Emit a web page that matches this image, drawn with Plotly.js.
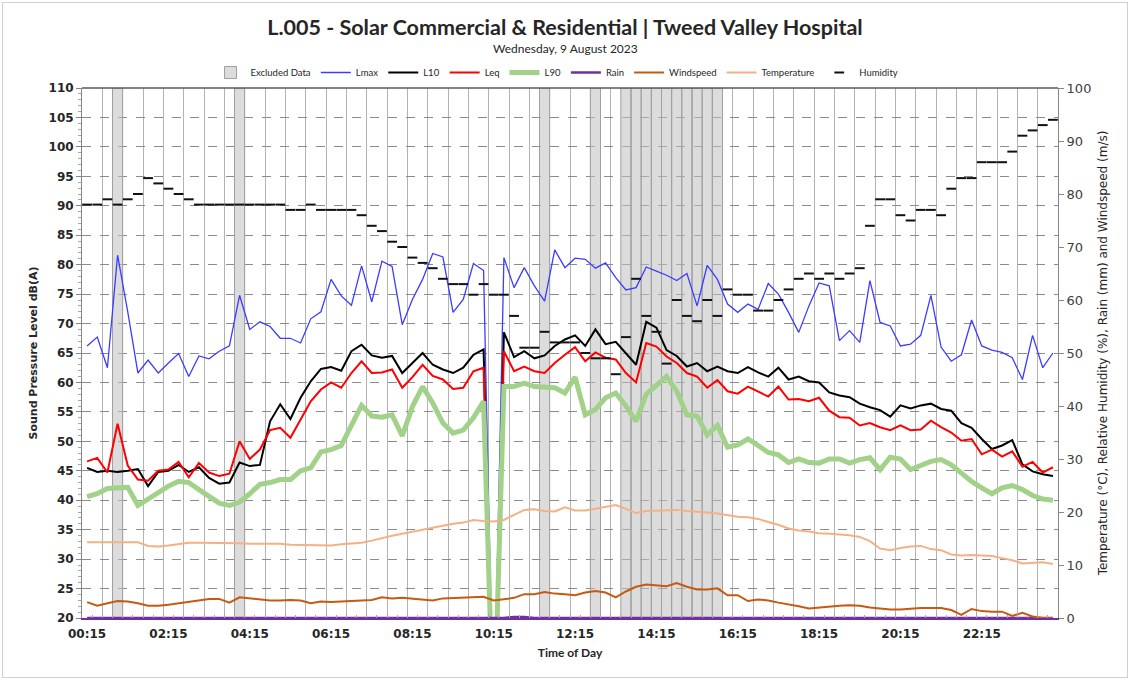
<!DOCTYPE html>
<html><head><meta charset="utf-8">
<script src="https://cdn.plot.ly/plotly-3.0.1.min.js"></script>
<style>
html,body{margin:0;padding:0;background:#fff;}
#chart{position:absolute;left:0;top:0;width:1130px;height:680px;}
#border{position:absolute;left:2px;top:2px;width:1124px;height:674px;border:1px solid #d0d0d0;pointer-events:none;}
</style></head><body>
<div id="chart"></div>
<div id="border"></div>
<script>
const times = ["00:15","00:30","00:45","01:00","01:15","01:30","01:45","02:00","02:15","02:30","02:45","03:00","03:15","03:30","03:45","04:00","04:15","04:30","04:45","05:00","05:15","05:30","05:45","06:00","06:15","06:30","06:45","07:00","07:15","07:30","07:45","08:00","08:15","08:30","08:45","09:00","09:15","09:30","09:45","10:00","10:15","10:30","10:45","11:00","11:15","11:30","11:45","12:00","12:15","12:30","12:45","13:00","13:15","13:30","13:45","14:00","14:15","14:30","14:45","15:00","15:15","15:30","15:45","16:00","16:15","16:30","16:45","17:00","17:15","17:30","17:45","18:00","18:15","18:30","18:45","19:00","19:15","19:30","19:45","20:00","20:15","20:30","20:45","21:00","21:15","21:30","21:45","22:00","22:15","22:30","22:45","23:00","23:15","23:30","23:45","00:00"];

const tickLabels = ["00:15","02:15","04:15","06:15","08:15","10:15","12:15","14:15","16:15","18:15","20:15","22:15"];

const excludedTimes = ["01:00","04:00","11:30","12:45","13:30","13:45","14:00","14:15","14:30","14:45","15:00","15:15","15:30","15:45"];

const lmax = [66.2,67.7,62.5,81.6,72.0,61.6,63.8,61.6,63.3,64.9,
 61.0,64.5,64.0,65.3,66.2,74.8,69.0,70.3,69.5,67.5,
 67.5,66.7,70.8,72.0,77.5,74.7,73.1,79.8,73.7,80.6,
 79.7,69.8,74.1,77.5,81.9,81.3,71.9,74.1,80.2,79.0,
 0,81.2,76.1,79.5,76.4,73.8,82.5,79.5,81.1,80.9,
 79.4,80.3,77.8,75.7,76.1,79.6,78.9,78.2,77.3,78.5,
 73.0,79.9,77.5,73.3,71.9,73.3,72.4,76.8,75.0,71.9,
 68.5,73.0,76.9,76.4,67.1,68.8,66.8,77.3,70.2,69.6,
 66.2,66.5,68.0,74.8,66.0,63.6,64.7,70.6,66.2,65.5,
 65.1,64.2,60.5,68.0,62.5,65.0];

const l10 = [45.5,44.8,45.0,44.8,45.0,45.3,42.4,44.8,45.0,46.0,
 44.8,45.6,43.8,42.8,43.0,46.4,45.8,46.0,53.4,56.3,
 53.8,57.4,60.2,62.3,62.6,62.0,65.3,66.4,64.6,64.2,
 64.5,61.6,63.3,65.0,63.0,62.2,61.6,62.5,64.7,65.6,
 0,68.5,64.3,65.3,64.1,64.6,66.2,67.3,68.0,66.2,
 69.0,66.5,66.9,64.9,63.0,70.3,69.3,65.5,64.5,62.7,
 63.3,61.9,62.7,61.9,61.6,62.6,61.7,61.0,62.5,60.5,
 61.0,60.2,60.0,58.3,57.8,57.5,56.4,55.8,55.3,54.2,
 56.1,55.6,56.1,56.4,55.5,55.2,53.1,52.3,50.4,48.7,
 49.3,50.2,46.1,44.9,44.4,44.1];

const leq = [46.6,47.2,44.7,53.0,45.9,43.5,43.3,45.0,45.2,46.5,
 43.9,46.3,44.7,44.1,44.5,50.0,47.0,48.6,51.9,52.3,
 50.6,53.7,56.8,58.8,60.0,59.1,61.6,63.6,61.6,61.7,
 62.2,59.1,60.9,63.0,61.1,60.5,58.9,59.1,61.9,62.5,
 0,65.3,61.9,62.7,61.9,61.6,63.3,64.7,66.0,63.6,
 65.1,64.2,63.9,61.6,60.0,66.7,66.1,64.4,63.3,61.6,
 61.0,59.1,60.4,58.5,58.1,59.3,58.5,57.6,59.3,57.1,
 57.2,56.8,57.4,55.2,54.1,54.0,52.7,53.1,52.4,51.9,
 52.7,51.9,52.0,53.5,52.4,51.5,50.1,50.4,47.8,48.6,
 47.4,48.3,45.7,46.5,44.7,45.6];

const l90 = [40.6,41.1,42.0,42.2,42.2,39.1,40.2,41.4,42.4,43.2,
 43.0,41.8,40.7,39.5,39.1,39.7,41.1,42.7,43.0,43.5,
 43.5,45.0,45.5,48.2,48.6,49.3,52.7,56.1,54.3,54.1,
 54.5,50.9,55.9,59.3,56.5,53.1,51.4,51.9,54.0,56.8,
 0,59.3,59.3,59.9,59.3,59.1,59.1,58.2,60.9,54.5,
 55.4,57.4,58.2,56.0,53.4,58.0,59.6,61.0,58.5,54.5,
 54.3,51.1,52.7,49.0,49.4,50.4,49.3,48.1,47.7,46.4,
 47.0,46.4,46.3,47.0,47.0,46.3,46.9,47.2,45.2,47.3,
 47.0,45.2,45.9,46.6,46.9,46.0,44.6,43.2,42.1,41.1,
 42.1,42.5,41.8,40.8,40.2,40.0];

const rain = [0,0,0,0,0,0,0,0,0,0, 0,0,0,0,0,0,0,0,0,0,
 0,0,0,0,0,0,0,0,0,0, 0,0,0,0,0,0,0,0,0,0,
 0,0,0.2,0.2,0,0,0,0,0,0, 0,0,0,0,0,0,0,0,0,0,
 0,0,0,0,0,0,0,0,0,0, 0,0,0,0,0,0,0,0,0,0,
 0,0,0,0,0,0,0,0,0,0, 0,0,0,0,0,0];

const windspeed = [3.0,2.3,2.8,3.2,3.1,2.8,2.3,2.3,2.5,2.8,
 3.1,3.4,3.6,3.6,2.9,3.9,3.7,3.4,3.3,3.3,
 3.4,3.3,2.8,3.1,3.0,3.1,3.2,3.3,3.4,3.9,
 3.7,3.8,3.6,3.5,3.3,3.7,3.8,3.9,4.0,4.0,
 3.3,3.5,3.8,4.5,4.5,4.9,4.6,4.5,4.3,4.8,
 5.1,4.8,3.9,5.0,5.9,6.3,6.2,6.0,6.6,5.9,
 5.4,5.4,5.6,4.3,4.3,3.2,3.5,3.3,2.9,2.6,
 2.2,1.8,2.0,2.2,2.3,2.4,2.3,2.0,1.8,1.6,
 1.6,1.8,1.9,1.9,1.9,1.5,0.6,1.7,1.3,1.2,
 1.2,0.4,1.0,0.3,0.0,0.0];

const temperature = [14.3,14.3,14.3,14.3,14.3,14.3,13.6,13.5,13.7,14.0,
 14.2,14.2,14.2,14.2,14.2,14.1,14.0,14.0,14.0,14.0,
 13.8,13.8,13.8,13.7,13.7,13.9,14.0,14.2,14.6,15.1,
 15.5,15.9,16.3,16.7,17.1,17.5,17.8,18.0,18.5,18.3,
 18.2,18.5,19.5,20.4,20.5,20.2,20.1,20.9,20.3,20.3,
 20.6,20.9,21.3,20.6,19.8,20.2,20.3,20.3,20.4,20.2,
 20.1,19.9,19.7,19.4,19.1,19.0,18.7,18.1,17.6,16.9,
 16.5,16.3,16.0,15.9,15.8,15.6,15.3,14.5,13.1,12.8,
 13.2,13.5,13.6,13.0,12.8,12.0,11.8,11.9,11.8,11.7,
 11.3,10.9,10.3,10.4,10.5,10.2];

const humidity = [78,78,79,78,79,80,83,82,81,80,
 79,78,78,78,78,78,78,78,78,78,
 77,77,78,77,77,77,77,76,74,73,
 71,70,68,67,66,64,63,63,61,63,
 61,61,57,51,51,54,52,52,52,50,
 49,49,46,53,64,57,54,48,60,57,
 56,60,57,62,61,61,58,58,60,62,
 64,65,64,65,64,65,66,74,79,79,
 76,75,77,77,76,81,83,83,86,86,
 86,88,91,92,93,94];

const splRange = [20, 110];
const metRange = [0, 100];

const idx = times.map((t, i) => i);
const pos = t => times.indexOf(t);
const exIdx = excludedTimes.map(pos);
const tickIdx = tickLabels.map(pos);
const xRange = [-0.5, times.length - 0.5];

const data = [
  {type:'scatter', x:[tickIdx[0]], y:[null], xaxis:'x2', yaxis:'y', showlegend:false, hoverinfo:'skip', mode:'lines'},
  {type:'bar', name:'Excluded Data', x:exIdx, y:exIdx.map(() => splRange[1] - splRange[0]), base:splRange[0], width:1,
   marker:{color:'rgba(191,191,191,0.55)', line:{color:'#a0a0a0', width:1}}, xaxis:'x', yaxis:'y'},
  {type:'scatter', mode:'lines', name:'Lmax', x:idx, y:lmax, line:{color:'#3c3cff', width:1.3}, xaxis:'x', yaxis:'y'},
  {type:'scatter', mode:'lines', name:'L10', x:idx, y:l10, line:{color:'#000000', width:2}, xaxis:'x', yaxis:'y'},
  {type:'scatter', mode:'lines', name:'Leq', x:idx, y:leq, line:{color:'#ff0000', width:2}, xaxis:'x', yaxis:'y'},
  {type:'scatter', mode:'lines', name:'L90', x:idx, y:l90, line:{color:'#a2d18a', width:5}, xaxis:'x', yaxis:'y'},
  {type:'scatter', mode:'lines', name:'Rain', x:idx, y:rain, line:{color:'#7030a0', width:2.5}, xaxis:'x', yaxis:'y2'},
  {type:'scatter', mode:'lines', name:'Windspeed', x:idx, y:windspeed, line:{color:'#c55a11', width:2}, xaxis:'x', yaxis:'y2'},
  {type:'scatter', mode:'lines', name:'Temperature', x:idx, y:temperature, line:{color:'#f4b183', width:2}, xaxis:'x', yaxis:'y2'},
  {type:'scatter', mode:'markers', name:'Humidity', x:idx, y:humidity, marker:{symbol:'line-ew', size:7, color:'#000', line:{color:'#111', width:2}}, xaxis:'x', yaxis:'y2'}
];

const tickFont = {family:'DejaVu Sans', size:12, weight:'bold', color:'#262626'};

const layout = {
  width:1130, height:680,
  paper_bgcolor:'#ffffff', plot_bgcolor:'#ffffff',
  margin:{l:82, r:72, t:88, b:62},
  bargap:0,
  title:{text:'L.005 - Solar Commercial & Residential | Tweed Valley Hospital',
         font:{family:'Lato', size:21.5, weight:'bold', color:'#262626'},
         x:0.5, xref:'container', xanchor:'center', y:1-27/680, yref:'container', yanchor:'middle'},
  annotations:[{text:'Wednesday, 9 August 2023', xref:'paper', yref:'paper', x:(565-82)/976, y:1+(88-48)/530,
                xanchor:'center', yanchor:'middle', showarrow:false, font:{family:'Lato', size:12, color:'#262626'}}],
  legend:{orientation:'h', x:(557-82)/976, xanchor:'center', y:1+(88-58)/530, yanchor:'top',
          font:{family:'Lato', size:9.5, color:'#262626'}, bgcolor:'rgba(0,0,0,0)', traceorder:'normal', itemwidth:30},
  xaxis:{type:'linear', range:xRange, tick0:-0.5, dtick:2, showgrid:true, gridcolor:'#b3b3b3', gridwidth:1,
         ticks:'inside', ticklen:5, tickcolor:'#a6a6a6', showticklabels:false,
         minor:{tick0:-0.5, dtick:1, ticks:'inside', ticklen:3, tickcolor:'#a6a6a6', showgrid:false},
         zeroline:false, showline:true, linecolor:'#7030a0', linewidth:1.5, fixedrange:true},
  xaxis2:{overlaying:'x', anchor:'y', side:'bottom', type:'linear', range:xRange, tickmode:'array',
          tickvals:tickIdx, ticktext:tickLabels, showgrid:false, zeroline:false, ticks:'outside', ticklen:5,
          tickcolor:'rgba(0,0,0,0)', showline:false,
          tickfont:tickFont,
          title:{text:'Time of Day', font:{family:'Lato', size:12, weight:'bold', color:'#262626'}, standoff:8}},
  yaxis:{range:splRange, tick0:20, dtick:5, showgrid:true, gridcolor:'#8c8c8c', griddash:'dash', gridwidth:1,
         zeroline:false, showline:true, linecolor:'#868686', ticks:'outside', ticklen:5, tickcolor:'#868686',
         minor:{dtick:1, ticks:'outside', ticklen:3, tickcolor:'#a6a6a6', showgrid:false},
         tickfont:tickFont,
         title:{text:'Sound Pressure Level dB(A)', font:{family:'DejaVu Sans', size:11, weight:'bold', color:'#262626'}, standoff:8}},
  yaxis2:{overlaying:'y', side:'right', anchor:'x', range:metRange, dtick:10, showgrid:false, zeroline:false,
          showline:true, linecolor:'#868686', ticks:'outside', ticklen:5, tickcolor:'#868686',
          tickfont:{family:'DejaVu Sans', size:13, color:'#404040'},
          title:{text:'Temperature (°C), Relative Humidity (%), Rain (mm) and Windspeed (m/s)',
                 font:{family:'DejaVu Sans', size:12, color:'#262626'}, standoff:8}},
  shapes:[{type:'line', xref:'paper', yref:'paper', x0:0, x1:1, y0:1, y1:1, line:{color:'#595959', width:1.5}}]
};

Plotly.newPlot('chart', data, layout, {staticPlot:true, displayModeBar:false});
</script></body></html>
